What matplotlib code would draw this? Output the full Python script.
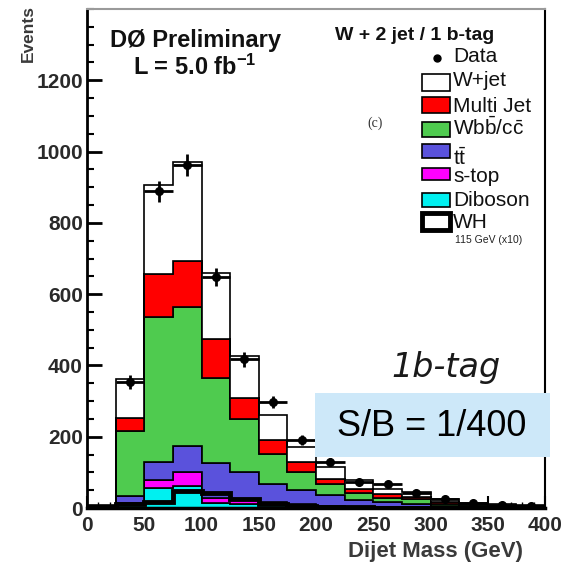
import numpy as np
import matplotlib
matplotlib.use("Agg")
import matplotlib.pyplot as plt
from matplotlib.patches import Rectangle
from matplotlib.lines import Line2D

plt.rcParams['font.family'] = ['Liberation Sans', 'DejaVu Sans']
plt.rcParams['mathtext.fontset'] = 'custom'
plt.rcParams['mathtext.rm'] = 'Liberation Sans'
plt.rcParams['mathtext.it'] = 'Liberation Sans:italic'
plt.rcParams['mathtext.bf'] = 'Liberation Sans:bold'

# ---- histogram content (25 GeV bins, 0-400 GeV) ----
bin_edges = np.arange(0, 425, 25)

diboson  = [1, 8, 55, 62, 15, 10, 8, 5, 3, 2, 1, 1, 1, 0.5, 0.5, 0.3]
single_top = [1, 6, 24, 40, 12, 12, 10, 7, 4, 2, 2, 1, 1, 0.5, 0.5, 0.3]
ttbar    = [1, 20, 49, 73, 100, 80, 50, 38, 29, 18, 15, 10, 4, 3, 2, 1.4]
wbb_wcc  = [2, 183, 407, 390, 237, 147, 83, 52, 31, 19, 11, 12, 6, 4, 2, 2]
multijet = [1, 35, 121, 129, 109, 60, 41, 28, 14, 11, 9, 6, 4, 2, 2, 1]
wjets    = [2, 110, 250, 276, 185, 117, 69, 42, 35, 27, 14, 16, 8, 5, 4, 3]

wh_x10   = [2, 10, 18, 48, 42, 25, 10, 5, 3, 2, 1, 1, 0.5, 0.5, 0.3, 0.3]

data_counts = [354, 889, 962, 649, 417, 298, 191, 130, 74, 66, 43, 25, 14, 9, 6]
data_first_bin = 1

process_labels = ["W+jet", "Multi Jet", r"Wb$\mathrm{\bar{b}}$/c$\mathrm{\bar{c}}$",
                  r"t$\mathrm{\bar{t}}$", "s-top", "Diboson"]
process_colors = ["#ffffff", "#ff0000", "#4fcb4f", "#5a52dc", "#ff00ff", "#00f0f0"]

W, H = 565, 567
fig = plt.figure(figsize=(W / 100, H / 100), dpi=100)

def fx(px):
    return px / W

def fy(py):
    return 1 - py / H

ax = fig.add_axes([fx(87), fy(508), fx(545) - fx(87), fy(9) - fy(508)])

# stack from bottom to top
stack_order = [diboson, single_top, ttbar, wbb_wcc, multijet, wjets]
stack_colors = process_colors[::-1]
base = np.zeros(len(bin_edges) - 1)
for comp, col in zip(stack_order, stack_colors):
    top = base + np.asarray(comp, dtype=float)
    ax.stairs(top, bin_edges, baseline=base.copy(), fill=True,
              facecolor=col, edgecolor="black", linewidth=1.2, zorder=2)
    base = top

# WH signal (x10)
ax.stairs(wh_x10, bin_edges, baseline=0, fill=False, color="black",
          linewidth=3.5, zorder=3)

# data points
centers = 0.5 * (bin_edges[:-1] + bin_edges[1:])
dc = centers[data_first_bin:data_first_bin + len(data_counts)]
dv = np.asarray(data_counts, dtype=float)
ax.errorbar(dc, dv, yerr=np.sqrt(dv), xerr=12.5, fmt="o", color="black",
            markersize=5.5, elinewidth=2, capsize=0, zorder=4)

ax.set_xlim(0, 400)
ax.set_ylim(0, 1400)
ax.set_xticks(np.arange(0, 401, 50))
ax.set_xticks(np.arange(0, 401, 10), minor=True)
ax.set_yticks(np.arange(0, 1201, 200))
ax.set_yticks(np.arange(0, 1401, 50), minor=True)
ax.tick_params(axis="both", which="both", direction="in", top=False, right=False,
               labelsize=15, labelcolor="#2a2a2a")
ax.tick_params(axis="y", which="major", length=11, width=2, pad=3)
ax.tick_params(axis="y", which="minor", length=5, width=1.5)
ax.tick_params(axis="x", which="major", length=9, width=1.5, pad=6)
ax.tick_params(axis="x", which="minor", length=4, width=1)
for lab in ax.get_xticklabels() + ax.get_yticklabels():
    lab.set_fontweight("bold")

ax.spines["left"].set_linewidth(2)
ax.spines["bottom"].set_linewidth(2.5)
ax.spines["right"].set_linewidth(1.5)
ax.spines["top"].set_linewidth(1.5)
ax.spines["top"].set_color("#9a9a9a")

# axis titles
fig.text(fx(28), fy(5), "Events", rotation=90, ha="center", va="top",
         fontsize=12.5, fontweight="bold", color="#3a3a3a")
fig.text(fx(523), fy(552), "Dijet Mass (GeV)", ha="right", va="center",
         fontsize=16, fontweight="bold", color="#3a3a3a")

# experiment labels
fig.text(fx(195), fy(40), "DØ Preliminary", ha="center", va="center",
         fontsize=17, fontweight="bold", color="#111111")
fig.text(fx(195), fy(67), r"L = 5.0 fb$^{\mathbf{-1}}$", ha="center", va="center",
         fontsize=17, fontweight="bold", color="#111111")
fig.text(fx(415), fy(35), "W + 2 jet / 1 b-tag", ha="center", va="center",
         fontsize=14, fontweight="bold", color="#111111")
fig.text(fx(375), fy(123), "(c)", ha="center", va="center",
         fontsize=10, family="Liberation Serif", color="#333333")

# legend
fig.add_artist(Line2D([fx(437)], [fy(58)], marker="o", markersize=5,
                      color="black", linestyle="none"))
fig.text(fx(453), fy(57), "Data", ha="left", va="center", fontsize=15, color="#111111")

box_tops = [74, 97, 122, 144, 168, 193]
box_heights = [17, 16, 15, 14, 12, 14]
text_y = [80, 106, 128, 158, 177, 200]
for lab, col, bt, bh, ty in zip(process_labels, process_colors, box_tops, box_heights, text_y):
    fig.add_artist(Rectangle((fx(422), fy(bt + bh)), fx(28), fy(bt) - fy(bt + bh),
                             facecolor=col, edgecolor="black", linewidth=1.2))
    fig.text(fx(453), fy(ty), lab, ha="left", va="center", fontsize=15, color="#111111")

fig.add_artist(Rectangle((fx(422), fy(230)), fx(28), fy(213) - fy(230),
                         facecolor="white", edgecolor="black", linewidth=3.5))
fig.text(fx(453), fy(222), "WH", ha="left", va="center", fontsize=15, color="#111111")
fig.text(fx(455), fy(240), "115 GeV (x10)", ha="left", va="center", fontsize=7.5,
         color="#222222")

# annotations
fig.text(fx(446), fy(368), "1b-tag", ha="center", va="center", fontsize=24,
         style="italic", family="DejaVu Sans", color="#1a1a1a")

fig.add_artist(Rectangle((fx(315), fy(457)), fx(550) - fx(315), fy(393) - fy(457),
                         facecolor="#cde8f9", edgecolor="none", zorder=5))
fig.text(fx(432), fy(426), "S/B = 1/400", ha="center", va="center", fontsize=26,
         color="black", zorder=6)

fig.savefig("out.png", dpi=100)
